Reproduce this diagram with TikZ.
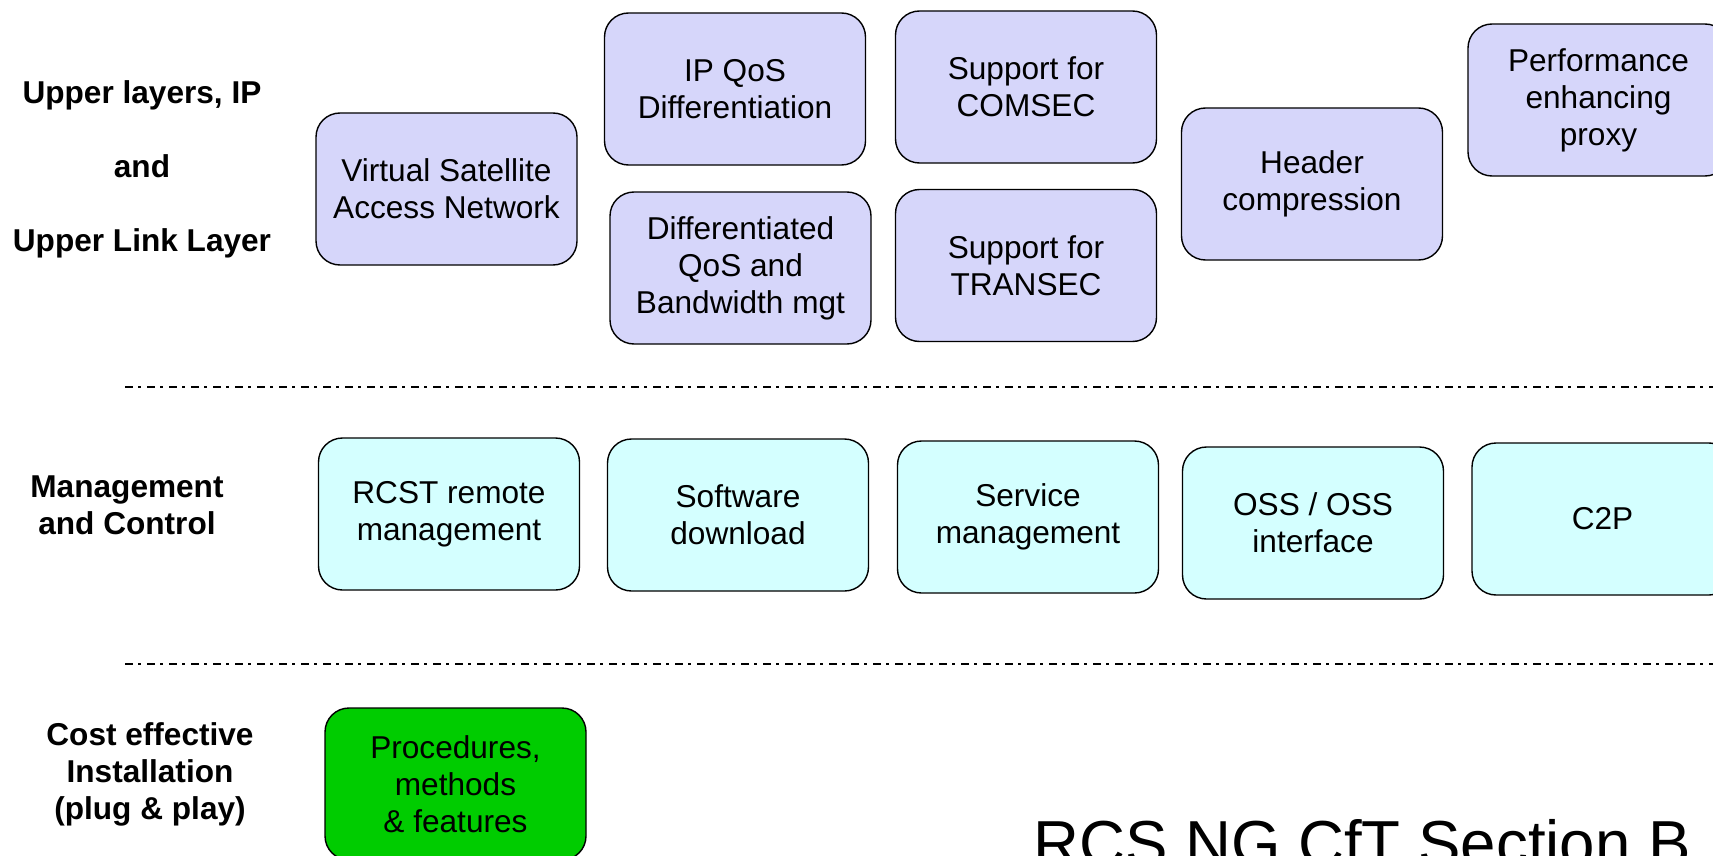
\documentclass[tikz,border=0pt]{standalone}
\usepackage{fontspec}
\setmainfont{Liberation Sans}
\usepackage{tikz}
\usetikzlibrary{positioning}
\definecolor{layerblue}{RGB}{214,214,250}
\definecolor{mgmtcyan}{RGB}{212,255,255}
\definecolor{installgreen}{RGB}{0,204,0}
\tikzset{
  featbox/.style={draw=black, line width=0.7pt, rectangle, rounded corners=12pt,
    minimum width=130.5pt, minimum height=76pt, align=center, inner sep=2pt,
    font=\fontsize{15.8}{18.5}\selectfont},
  rowlabel/.style={align=center, font=\fontsize{15.8}{18.5}\selectfont\bfseries},
  rowsep/.style={line width=1pt, dash pattern=on 4pt off 2.5pt on 1.5pt off 3pt},
}

\begin{document}
\begin{tikzpicture}[x=0.5pt, y=-0.5pt]
    \useasboundingbox (0,0) rectangle (1713,856);
    \clip (0,0) rectangle (1713,856);

    \node[rowlabel, font=\fontsize{15.8}{37}\selectfont\bfseries] (upper) at (142,169) {Upper layers, IP\\and\\Upper Link Layer};
    \node[rowlabel] (mgmt) at (127,505) {Management\\and Control};
    \node[rowlabel] (cost) at (150,774) {Cost effective\\Installation\\(plug \& play)};

    \node[featbox, fill=layerblue] (vsan) at (446.5,189) {Virtual Satellite\\Access Network};
    \node[featbox, fill=layerblue] (ipqos) at (735,89) {IP QoS\\Differentiation};
    \node[featbox, fill=layerblue] (diffqos) at (740.5,268) {Differentiated\\QoS and\\Bandwidth mgt};
    \node[featbox, fill=layerblue] (comsec) at (1026,87) {Support for\\COMSEC};
    \node[featbox, fill=layerblue] (transec) at (1026,265.5) {Support for\\TRANSEC};
    \node[featbox, fill=layerblue] (hdrcomp) at (1312,184) {Header\\compression};
    \node[featbox, fill=layerblue] (pep) at (1598.5,100) {Performance\\enhancing\\proxy};

    \draw[rowsep] (125,387) -- (1713,387);

    \node[featbox, fill=mgmtcyan] (rcst) at (449,514) {RCST remote\\management};
    \node[featbox, fill=mgmtcyan] (swdl) at (738,515) {Software\\download};
    \node[featbox, fill=mgmtcyan] (svcmgmt) at (1028,517) {Service\\management};
    \node[featbox, fill=mgmtcyan] (oss) at (1313,523) {OSS / OSS\\interface};
    \node[featbox, fill=mgmtcyan] (ctwop) at (1602.5,519) {C2P};

    \draw[rowsep] (125,664) -- (1713,664);

    \node[featbox, fill=installgreen] (install) at (455.5,784) {Procedures,\\methods\\\& features};

    \node[anchor=base west, inner sep=0pt, font=\fontsize{31.8}{37}\selectfont] (title) at (1033,865) {RCS NG CfT Section B};
\end{tikzpicture}
\end{document}
